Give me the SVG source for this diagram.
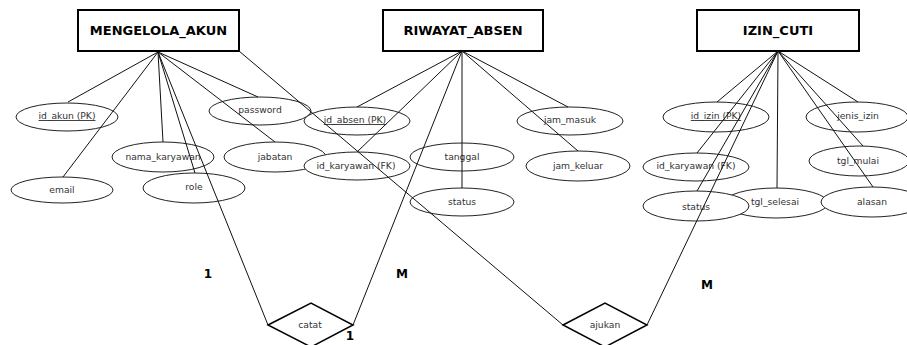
<svg xmlns="http://www.w3.org/2000/svg" width="907" height="345" viewBox="0 0 907 345">
<style>
.ent{fill:#fff;stroke:#000;stroke-width:2}
.ent-t{font-family:"DejaVu Sans",sans-serif;font-weight:bold;font-size:13px;fill:#000;text-anchor:middle}
.att{fill:#fff;stroke:#222;stroke-width:1}
.att-t{font-family:"DejaVu Sans",sans-serif;font-size:9.2px;fill:#333;text-anchor:middle}
.pk{text-decoration:underline}
.rel{fill:#fff;stroke:#000;stroke-width:1.5}
.rel-t{font-family:"DejaVu Sans",sans-serif;font-size:9.2px;fill:#333;text-anchor:middle}
.card{font-family:"DejaVu Sans",sans-serif;font-weight:bold;font-size:12px;fill:#000;text-anchor:middle}
.ln{stroke:#111;stroke-width:1;fill:none}
</style>

<g id="MENGELOLA_AKUN">
<rect class="ent" x="78" y="10" width="161" height="41"/>
<text class="ent-t" x="158.5" y="35">MENGELOLA_AKUN</text>
</g>
<g id="RIWAYAT_ABSEN">
<rect class="ent" x="383" y="10" width="160" height="41"/>
<text class="ent-t" x="463" y="35">RIWAYAT_ABSEN</text>
</g>
<g id="IZIN_CUTI">
<rect class="ent" x="697" y="10" width="162" height="41"/>
<text class="ent-t" x="778" y="35">IZIN_CUTI</text>
</g>

<g id="attr_id_akun"><ellipse class="att" cx="67" cy="117" rx="51" ry="14"/><text class="att-t pk" x="67" y="119">id_akun (PK)</text></g>
<g id="attr_email"><ellipse class="att" cx="62" cy="190" rx="51" ry="13"/><text class="att-t" x="62" y="193">email</text></g>
<g id="attr_nama_karyawan"><ellipse class="att" cx="163" cy="157" rx="51" ry="15"/><text class="att-t" x="163" y="160">nama_karyawan</text></g>
<g id="attr_role"><ellipse class="att" cx="194" cy="188" rx="51" ry="15"/><text class="att-t" x="194" y="190">role</text></g>
<g id="attr_password"><ellipse class="att" cx="260" cy="111" rx="51" ry="14"/><text class="att-t" x="260" y="113">password</text></g>
<g id="attr_jabatan"><ellipse class="att" cx="275" cy="157" rx="51" ry="15"/><text class="att-t" x="275" y="160">jabatan</text></g>

<g id="attr_id_absen"><ellipse class="att" cx="357" cy="121" rx="53" ry="14"/><text class="att-t pk" x="355" y="123">id_absen (PK)</text></g>
<g id="attr_ra_id_karyawan"><ellipse class="att" cx="357" cy="166" rx="53" ry="14"/><text class="att-t" x="356" y="169">id_karyawan (FK)</text></g>
<g id="attr_tanggal"><ellipse class="att" cx="462" cy="157" rx="52" ry="14"/><text class="att-t" x="462" y="160">tanggal</text></g>
<g id="attr_ra_status"><ellipse class="att" cx="462" cy="202" rx="52" ry="14"/><text class="att-t" x="462" y="205">status</text></g>
<g id="attr_jam_masuk"><ellipse class="att" cx="570" cy="121" rx="53" ry="14"/><text class="att-t" x="570" y="123">jam_masuk</text></g>
<g id="attr_jam_keluar"><ellipse class="att" cx="578" cy="166" rx="52" ry="15"/><text class="att-t" x="578" y="169">jam_keluar</text></g>

<g id="attr_id_izin"><ellipse class="att" cx="716" cy="117" rx="53" ry="15"/><text class="att-t pk" x="716" y="119">id_izin (PK)</text></g>
<g id="attr_jenis_izin"><ellipse class="att" cx="857" cy="117" rx="51" ry="15"/><text class="att-t" x="858" y="119">jenis_izin</text></g>
<g id="attr_ic_id_karyawan"><ellipse class="att" cx="696" cy="167" rx="53" ry="14"/><text class="att-t" x="696" y="169">id_karyawan (FK)</text></g>
<g id="attr_tgl_mulai"><ellipse class="att" cx="859" cy="161" rx="50" ry="15"/><text class="att-t" x="858" y="164">tgl_mulai</text></g>
<g id="attr_tgl_selesai"><ellipse class="att" cx="776" cy="203" rx="52" ry="15"/><text class="att-t" x="775" y="205">tgl_selesai</text></g>
<g id="attr_ic_status"><ellipse class="att" cx="696" cy="206" rx="53" ry="15"/><text class="att-t" x="696" y="210">status</text></g>
<g id="attr_alasan"><ellipse class="att" cx="872" cy="202" rx="51" ry="15"/><text class="att-t" x="872" y="205">alasan</text></g>

<g id="rel_catat">
<polygon class="rel" points="268,325 311,303 353,325 311,347"/>
<text class="rel-t" x="310" y="328">catat</text>
</g>
<g id="rel_ajukan">
<polygon class="rel" points="563,325 605,303 647,325 605,347"/>
<text class="rel-t" x="605" y="328">ajukan</text>
</g>

<g id="connectors">
<line class="ln" x1="158" y1="52" x2="68" y2="102"/>
<line class="ln" x1="158" y1="52" x2="63" y2="177"/>
<line class="ln" x1="158" y1="52" x2="163" y2="142"/>
<line class="ln" x1="158" y1="52" x2="195" y2="173"/>
<line class="ln" x1="158" y1="52" x2="258" y2="97"/>
<line class="ln" x1="158" y1="52" x2="275" y2="142"/>
<line class="ln" x1="158" y1="52" x2="268" y2="325"/>
<line class="ln" x1="239" y1="51" x2="563" y2="325"/>

<line class="ln" x1="462" y1="51" x2="357" y2="107"/>
<line class="ln" x1="462" y1="51" x2="357" y2="152"/>
<line class="ln" x1="462" y1="51" x2="462" y2="188"/>
<line class="ln" x1="462" y1="51" x2="568" y2="107"/>
<line class="ln" x1="462" y1="51" x2="578" y2="151"/>
<line class="ln" x1="462" y1="51" x2="353" y2="325"/>

<line class="ln" x1="778" y1="51" x2="717" y2="102"/>
<line class="ln" x1="778" y1="51" x2="697" y2="153"/>
<line class="ln" x1="778" y1="51" x2="697" y2="191"/>
<line class="ln" x1="778" y1="51" x2="777" y2="188"/>
<line class="ln" x1="778" y1="51" x2="858" y2="102"/>
<line class="ln" x1="778" y1="51" x2="863" y2="146"/>
<line class="ln" x1="778" y1="51" x2="873" y2="187"/>
<line class="ln" x1="778" y1="51" x2="647" y2="325"/>
</g>

<g id="cardinalities">
<text class="card" x="208" y="278">1</text>
<text class="card" x="402" y="278">M</text>
<text class="card" x="350" y="340">1</text>
<text class="card" x="707" y="289">M</text>
</g>
</svg>
